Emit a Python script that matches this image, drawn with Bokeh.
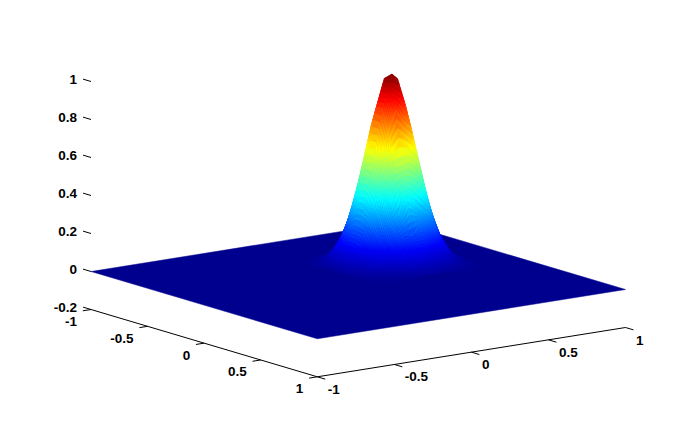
import numpy as np
from bokeh.plotting import figure
from bokeh.models import ColumnDataSource
from bokeh.core.properties import value
from bokeh.embed import file_html
from bokeh.resources import INLINE

# ---- data ----
z_floor = -0.2
u_nodes = [-0.583, -0.533, -0.483, -0.433, -0.383, -0.333, -0.283, -0.233,
           -0.183, -0.133, -0.083, -0.033, 0.017, 0.067, 0.117, 0.167]
v_nodes = [-0.010, 0.040, 0.090, 0.140, 0.190, 0.240, 0.290, 0.340,
           0.390, 0.440, 0.490, 0.540, 0.590, 0.640, 0.690, 0.740]
z_rows = [
    [0, .001, .002, .004, .007, .011, .015, .017, .017, .015, .011, .007, .004, .002, .001, 0],
    [.001, .002, .005, .011, .020, .031, .041, .047, .047, .041, .031, .020, .011, .005, .002, .001],
    [.002, .005, .013, .027, .047, .073, .097, .112, .112, .097, .073, .047, .027, .013, .005, .002],
    [.004, .011, .027, .055, .097, .150, .199, .230, .230, .199, .150, .097, .055, .027, .011, .004],
    [.007, .020, .047, .097, .173, .266, .354, .409, .409, .354, .266, .173, .097, .047, .020, .007],
    [.011, .031, .073, .150, .266, .408, .544, .627, .627, .544, .408, .266, .150, .073, .031, .011],
    [.015, .041, .097, .199, .354, .544, .724, .836, .836, .724, .544, .354, .199, .097, .041, .015],
    [.017, .047, .112, .230, .409, .627, .836, .978, .995, .836, .627, .409, .230, .112, .047, .017],
    [.017, .047, .112, .230, .409, .627, .836, .995, .978, .836, .627, .409, .230, .112, .047, .017],
    [.015, .041, .097, .220, .354, .544, .724, .836, .770, .724, .544, .354, .199, .097, .041, .015],
    [.011, .031, .055, .150, .266, .350, .544, .540, .560, .520, .408, .266, .150, .073, .031, .011],
    [.007, .020, .047, .120, .150, .266, .300, .409, .340, .300, .266, .173, .097, .047, .020, .007],
    [.004, .011, .027, .055, .075, .170, .199, .190, .230, .180, .130, .097, .055, .027, .011, .004],
    [.002, .005, .013, .027, .047, .090, .097, .130, .112, .080, .073, .047, .027, .013, .005, .002],
    [.001, .002, .005, .011, .020, .031, .055, .047, .047, .041, .031, .020, .011, .005, .002, .001],
    [0, .001, .002, .004, .007, .011, .015, .017, .017, .015, .011, .007, .004, .002, .001, 0],
]
u_ticks = [-1, -0.5, 0, 0.5, 1]
v_ticks = [-1, -0.5, 0, 0.5, 1]
z_ticks = [-0.2, 0, 0.2, 0.4, 0.6, 0.8, 1]
u_labels = ["-1", "-0.5", "0", "0.5", "1"]
v_labels = ["-1", "-0.5", "0", "0.5", "1"]
z_labels = ["-0.2", "0", "0.2", "0.4", "0.6", "0.8", "1"]

# ---- view: axonometric projection into the picture ----
ORIGIN = (90.5, 271.0)      # u=-1, v=-1, z=0
U_VEC = (113.15, 33.65)
V_VEC = (154.1, -24.65)
Z_SCALE = -190.0


def project(u, v, z):
    u, v, z = np.asarray(u, float), np.asarray(v, float), np.asarray(z, float)
    x = ORIGIN[0] + (u + 1) * U_VEC[0] + (v + 1) * V_VEC[0]
    y = ORIGIN[1] + (u + 1) * U_VEC[1] + (v + 1) * V_VEC[1] + z * Z_SCALE
    return x, y


JET_AT = [0, 1 / 8, 3 / 8, 5 / 8, 7 / 8, 1]
JET_R = [0, 0, 0, 255, 255, 128]
JET_G = [0, 0, 255, 255, 0, 0]
JET_B = [143, 255, 255, 0, 0, 0]


def jet(z):
    r = int(round(np.interp(z, JET_AT, JET_R)))
    g = int(round(np.interp(z, JET_AT, JET_G)))
    b = int(round(np.interp(z, JET_AT, JET_B)))
    return f"#{r:02x}{g:02x}{b:02x}"


U = np.array(u_nodes)
V = np.array(v_nodes)
Z = np.array(z_rows, float)

SUB = 6
xs, ys, colors = [], [], []
for a in range(len(U) - 1):                 # far to near
    for b in range(len(V) - 2, -1, -1):
        for s in range(SUB):
            for t in range(SUB - 1, -1, -1):
                ss = np.array([s, s + 1, s + 1, s]) / SUB
                tt = np.array([t, t, t + 1, t + 1]) / SUB
                uu = U[a] + ss * (U[a + 1] - U[a])
                vv = V[b] + tt * (V[b + 1] - V[b])
                zz = (Z[a, b] * (1 - ss) * (1 - tt) + Z[a + 1, b] * ss * (1 - tt)
                      + Z[a, b + 1] * (1 - ss) * tt + Z[a + 1, b + 1] * ss * tt)
                px, py = project(uu, vv, zz)
                xs.append(px.tolist())
                ys.append(py.tolist())
                colors.append(jet(zz.mean()))

p = figure(width=673, height=408, x_range=(0, 673), y_range=(408, 0),
           output_backend="svg", toolbar_location=None, min_border=0,
           background_fill_color="white", border_fill_color="white",
           outline_line_color=None)
p.axis.visible = False
p.grid.visible = False

# the flat floor of the surface
fx, fy = project([-1, 1, 1, -1], [-1, -1, 1, 1], [0, 0, 0, 0])
p.patch(fx, fy, fill_color=jet(0), line_color=jet(0), line_width=0.5)

src = ColumnDataSource(dict(xs=xs, ys=ys, color=colors))
p.patches("xs", "ys", source=src, fill_color="color", line_color="color", line_width=0.3)

# axis lines
cx, cy = project([-1, 1, 1], [-1, -1, 1], [z_floor] * 3)
p.line(cx, cy, line_color="black", line_width=1)

TICK = 8.3
un = np.hypot(*U_VEC)
vn = np.hypot(*V_VEC)
ux, uy = U_VEC[0] / un * TICK, U_VEC[1] / un * TICK
vx, vy = V_VEC[0] / vn * TICK, V_VEC[1] / vn * TICK
FONT = value("Liberation Sans")
TXT = dict(text_font=FONT, text_font_size="13.5px", text_font_style="bold",
           text_color="black", text_baseline="middle")

# u axis (left edge): ticks toward -v
tx, ty = project(u_ticks, [-1] * 5, [z_floor] * 5)
p.segment(tx, ty, tx - vx, ty - vy, line_color="black", line_width=1)
p.text(tx - 14, ty + 12, text=u_labels, text_align="right", **TXT)

# v axis (right edge): ticks toward +u
tx, ty = project([1] * 5, v_ticks, [z_floor] * 5)
p.segment(tx, ty, tx + ux, ty + uy, line_color="black", line_width=1)
p.text(tx + 10.5, ty + 12.5, text=v_labels, text_align="left", **TXT)

# z axis: ticks toward -u
tx, ty = project([-1] * 7, [-1] * 7, z_ticks)
p.segment(tx, ty, tx - ux, ty - uy, line_color="black", line_width=1)
p.text(tx - 14, ty - 2, text=z_labels, text_align="right", **TXT)

open("out.html", "w").write(file_html(p, INLINE))
